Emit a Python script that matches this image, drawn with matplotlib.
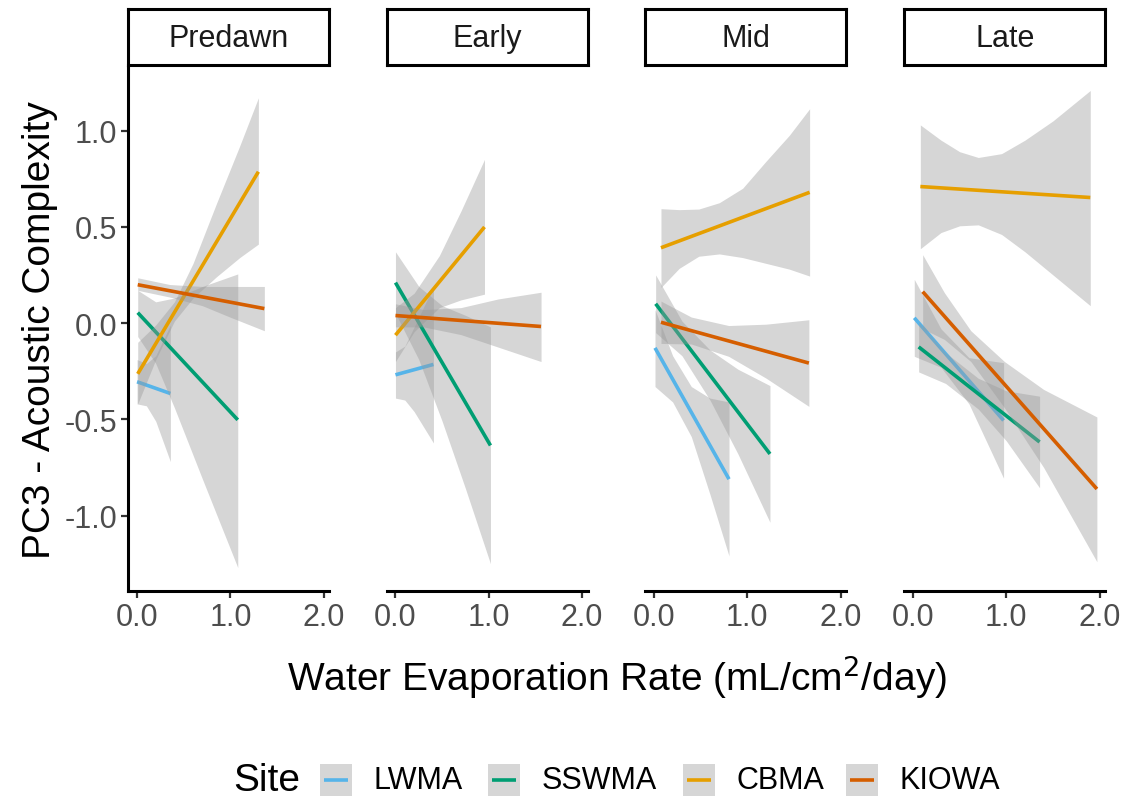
import matplotlib
matplotlib.use("Agg")
import matplotlib.pyplot as plt
from matplotlib.lines import Line2D
from matplotlib.patches import Rectangle

plt.rcParams["font.family"] = ["Liberation Sans", "DejaVu Sans"]

sites = ["LWMA", "SSWMA", "CBMA", "KIOWA"]
site_colors = ["#56B4E9", "#009E73", "#E69F00", "#D55E00"]
periods = ["Predawn", "Early", "Mid", "Late"]

# per site: x positions, fitted value at first/last x, ribbon lower, ribbon upper
predawn = {
    "LWMA":  ([0.0, 0.1, 0.2, 0.357], [-0.305, -0.366],
              [-0.42, -0.43, -0.51, -0.72], [-0.19, -0.21, -0.17, -0.01]),
    "SSWMA": ([0.007, 0.2, 0.4, 0.7, 1.079], [0.054, -0.503],
              [-0.07, -0.21, -0.44, -0.81, -1.27], [0.17, 0.11, 0.13, 0.19, 0.255]),
    "CBMA":  ([0.007, 0.2, 0.4, 0.6, 0.85, 1.1, 1.3], [-0.264, 0.786],
              [-0.42, -0.19, 0.01, 0.13, 0.24, 0.34, 0.41],
              [-0.10, -0.01, 0.11, 0.31, 0.62, 0.92, 1.17]),
    "KIOWA": ([0.007, 0.35, 0.7, 1.0, 1.364], [0.199, 0.075],
              [0.17, 0.135, 0.09, 0.03, -0.04], [0.235, 0.2, 0.19, 0.19, 0.19]),
}
early = {
    "LWMA":  ([0.0, 0.1, 0.2, 0.407], [-0.269, -0.215],
              [-0.39, -0.40, -0.46, -0.623], [-0.15, -0.12, -0.02, 0.19]),
    "SSWMA": ([0.0, 0.25, 0.5, 0.75, 1.018], [0.21, -0.636],
              [0.05, -0.19, -0.51, -0.86, -1.25], [0.37, 0.19, 0.09, 0.04, -0.02]),
    "CBMA":  ([0.0, 0.2, 0.47, 0.7, 0.954], [-0.063, 0.499],
              [-0.20, -0.045, 0.08, 0.12, 0.15], [0.08, 0.155, 0.35, 0.58, 0.85]),
    "KIOWA": ([0.0, 0.3, 0.7, 1.1, 1.56], [0.039, -0.018],
              [-0.02, -0.02, -0.06, -0.125, -0.20], [0.10, 0.07, 0.08, 0.125, 0.16]),
}
mid = {
    "LWMA":  ([0.011, 0.2, 0.4, 0.6, 0.804], [-0.129, -0.811],
              [-0.33, -0.41, -0.59, -0.89, -1.21], [0.07, -0.17, -0.33, -0.39, -0.41]),
    "SSWMA": ([0.018, 0.3, 0.6, 0.9, 1.243], [0.10, -0.68],
              [-0.05, -0.17, -0.40, -0.68, -1.035], [0.25, 0.01, -0.14, -0.24, -0.325]),
    "CBMA":  ([0.075, 0.27, 0.48, 0.7, 0.95, 1.2, 1.45, 1.668], [0.391, 0.679],
              [0.185, 0.284, 0.347, 0.359, 0.34, 0.31, 0.28, 0.244],
              [0.594, 0.589, 0.592, 0.625, 0.70, 0.84, 0.975, 1.113]),
    "KIOWA": ([0.075, 0.4, 0.8, 1.2, 1.66], [0.004, -0.208],
              [-0.106, -0.109, -0.173, -0.286, -0.433], [0.114, 0.031, -0.013, -0.006, 0.017]),
}
late = {
    "LWMA":  ([0.014, 0.3, 0.6, 0.971], [0.027, -0.506],
              [-0.173, -0.23, -0.42, -0.806], [0.227, -0.03, -0.18, -0.206]),
    "SSWMA": ([0.061, 0.35, 0.7, 1.0, 1.357], [-0.124, -0.618],
              [-0.254, -0.314, -0.447, -0.612, -0.856], [0.006, -0.154, -0.287, -0.352, -0.38]),
    "CBMA":  ([0.079, 0.3, 0.5, 0.7, 0.95, 1.2, 1.5, 1.9], [0.709, 0.652],
              [0.386, 0.47, 0.505, 0.51, 0.46, 0.37, 0.25, 0.09],
              [1.029, 0.95, 0.89, 0.86, 0.88, 0.95, 1.05, 1.208]),
    "KIOWA": ([0.104, 0.336, 0.62, 0.98, 1.4, 1.971], [0.163, -0.862],
              [-0.03, -0.085, -0.20, -0.44, -0.75, -1.24],
              [0.355, 0.158, -0.04, -0.20, -0.345, -0.488]),
}
panels = [predawn, early, mid, late]

x_ticks = [0, 1, 2]
x_labels = ["0.0", "1.0", "2.0"]
y_ticks = [-1.0, -0.5, 0.0, 0.5, 1.0]
y_labels = ["-1.0", "-0.5", "0.0", "0.5", "1.0"]

W, H = 1134, 803
fig = plt.figure(figsize=(W / 100, H / 100), dpi=100)


def px_axes(left, top, width, height):
    return fig.add_axes([left / W, 1 - (top + height) / H, width / W, height / H])


panel_left = [128.3, 386.7, 645.2, 904.2]
panel_w = 201
panel_top, panel_bottom = 68, 592

for i, (period, data) in enumerate(zip(periods, panels)):
    ax = px_axes(panel_left[i], panel_top, panel_w, panel_bottom - panel_top)
    z = 1
    for site, col in zip(sites, site_colors):
        x, fit, lo, hi = data[site]
        ax.fill_between(x, lo, hi, color="#999999", alpha=0.4, lw=0, zorder=z)
        ax.plot([x[0], x[-1]], fit, color=col, lw=2.6, solid_capstyle="butt", zorder=z + 1)
        z += 2
    ax.set_xlim(-0.094, 2.06)
    ax.set_ylim(-1.392, 1.33)
    for s in ["top", "right"]:
        ax.spines[s].set_visible(False)
    ax.spines["bottom"].set_linewidth(2.2)
    ax.spines["left"].set_linewidth(2.2)
    ax.set_xticks(x_ticks)
    ax.set_xticklabels(x_labels)
    ax.tick_params(axis="both", length=5, width=1.6, color="#333333",
                   labelcolor="#4D4D4D", labelsize=22, pad=3)
    if i == 0:
        ax.set_yticks(y_ticks)
        ax.set_yticklabels(y_labels)
    else:
        ax.spines["left"].set_visible(False)
        ax.set_yticks([])

    # facet strip
    sx = px_axes(panel_left[i], 10, panel_w, 56)
    sx.set_xticks([]); sx.set_yticks([])
    for s in sx.spines.values():
        s.set_linewidth(2.2)
        s.set_color("black")
    sx.text(0.5, 0.48, period, ha="center", va="center", fontsize=22,
            color="#1A1A1A", transform=sx.transAxes)

fig.text(40 / W, 1 - 330 / H, "PC3 - Acoustic Complexity", rotation=90,
         ha="center", va="center", fontsize=28)
fig.text(616.5 / W, 1 - 677 / H, "Water Evaporation Rate (mL/cm$^{2}$/day)",
         ha="center", va="center", fontsize=28)

# legend row
leg_y = 781
fig.text(233 / W, 1 - leg_y / H, "Site", ha="left", va="center", fontsize=28)
key_x = [320, 488, 683, 846]
for kx, site, col in zip(key_x, sites, site_colors):
    fig.add_artist(Rectangle((kx / W, 1 - (leg_y + 16) / H), 32 / W, 32 / H,
                             transform=fig.transFigure, facecolor="#D6D6D6",
                             edgecolor="none"))
    fig.add_artist(Line2D([(kx + 4) / W, (kx + 28) / W], [1 - leg_y / H] * 2,
                          transform=fig.transFigure, color=col, lw=2.6,
                          solid_capstyle="butt"))
    fig.text((kx + 54) / W, 1 - leg_y / H, site, ha="left", va="center", fontsize=22)

fig.savefig("out.png", dpi=100)
